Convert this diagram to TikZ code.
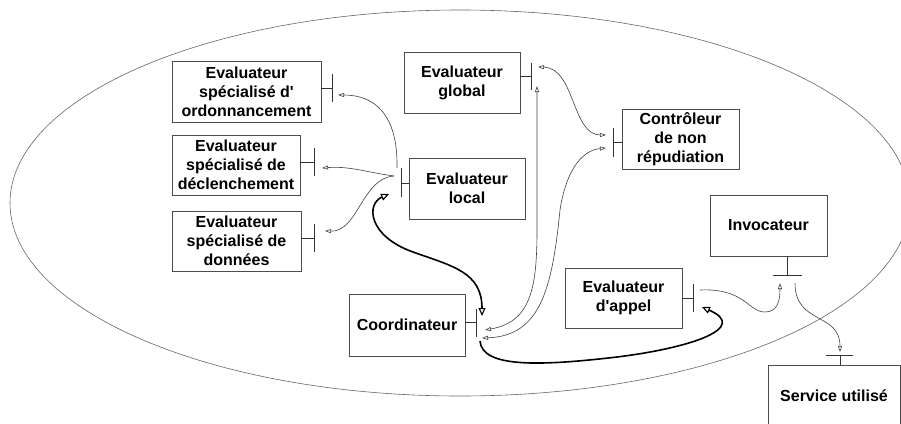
\documentclass[tikz,border=0pt]{standalone}
\usepackage{fontspec}
\setmainfont{Liberation Sans}[Ligatures=TeXOff]
\usetikzlibrary{arrows.meta}
\begin{document}
\begin{tikzpicture}[x=1pt,y=-1pt,
  box/.style={draw=black!70, fill=white, line width=0.8pt, rectangle, inner sep=0pt, align=center,
              font=\fontsize{16}{19}\selectfont\bfseries},
  tee/.style={draw=black!80, line width=0.7pt},
  ell/.style={draw=black!60, line width=0.6pt},
  fine/.style={draw=black!75, line width=0.6pt, >={Triangle[open,length=6pt,width=4pt]}},
  heavy/.style={draw=black, line width=1.6pt, >={Triangle[open,length=8pt,width=7pt,line width=1.1pt]}}]
\clip (0,0) rectangle (901,423);
\useasboundingbox (0,0) rectangle (901,423);

% enclosing ellipse
\draw[ell] (460,203) ellipse [x radius=450pt, y radius=193pt];

% boxes
\node[box, minimum width=149pt, minimum height=61pt] (ord)  at (246.5,91.5) {Evaluateur\\spécialisé d'\\ordonnancement};
\node[box, minimum width=128pt, minimum height=60pt] (decl) at (236,165)    {Evaluateur\\spécialisé de\\déclenchement};
\node[box, minimum width=129pt, minimum height=60pt] (don)  at (236.5,241)  {Evaluateur\\spécialisé de\\données};
\node[box, minimum width=116pt, minimum height=61pt] (glob) at (462,82.5)   {Evaluateur\\global};
\node[box, minimum width=116pt, minimum height=61pt] (loc)  at (467,188.5)  {Evaluateur\\local};
\node[box, minimum width=117pt, minimum height=60pt] (ctrl) at (680.5,139)  {Contrôleur\\de non\\répudiation};
\node[box, minimum width=117pt, minimum height=61pt] (inv)  at (768.5,225.5){Invocateur};
\node[box, minimum width=117pt, minimum height=60pt] (app)  at (623.5,298)  {Evaluateur\\d'appel};
\node[box, minimum width=116pt, minimum height=62pt] (coord) at (407,325)   {Coordinateur};
\node[box, minimum width=132pt, minimum height=62pt] (serv) at (834,396)    {Service utilisé};

% interface tees
\coordinate (ordT)  at (332,88);
\coordinate (declT) at (314,162);
\coordinate (donT)  at (314,238);
\coordinate (globT) at (531,76);
\coordinate (locT)  at (401,183);
\coordinate (ctrlT) at (613,142);
\coordinate (coordT) at (476,322);
\coordinate (appT)  at (693,298);
\coordinate (invT)  at (787,275);
\coordinate (servT) at (840,355);
\draw[tee] (ord.east |- ordT) -- (ordT) ++(0,-14) -- ++(0,28);
\draw[tee] (decl.east |- declT) -- (declT) ++(0,-14) -- ++(0,28);
\draw[tee] (don.east |- donT) -- (donT) ++(0,-14) -- ++(0,28);
\draw[tee] (glob.east |- globT) -- (globT) ++(0,-13) -- ++(0,27);
\draw[tee] (loc.west |- locT) -- (locT) ++(0,-15) -- ++(0,29);
\draw[tee] (ctrl.west |- ctrlT) -- (ctrlT) ++(0,-14) -- ++(0,29);
\draw[tee] (coord.east |- coordT) -- (coordT) ++(0,-13) -- ++(0,28);
\draw[tee] (app.east |- appT) -- (appT) ++(0,-14) -- ++(0,28);
\draw[tee] (inv.south -| invT) -- (invT) ++(-14,0) -- ++(29,0);
\draw[tee] (serv.north -| servT) -- (servT) ++(-14,0) -- ++(27,0);

% connector ends
\coordinate (ordIn)   at (338,95);
\coordinate (declIn)  at (322,168);
\coordinate (donIn)   at (325,231);
\coordinate (locOut1) at (397,168);
\coordinate (locOut2) at (394,176);
\coordinate (locIn)   at (389,194);
\coordinate (coIn1)   at (482,316);
\coordinate (coIn2)   at (485,330);
\coordinate (coIn3)   at (482,338);
\coordinate (coOut)   at (480,341);
\coordinate (glIn1)   at (538,67);
\coordinate (glIn2)   at (537,86);
\coordinate (ctIn1)   at (606,135);
\coordinate (ctIn2)   at (606,148);
\coordinate (apIn)    at (702,307);
\coordinate (apOut)   at (700,290);
\coordinate (invIn)   at (780,283);
\coordinate (invOut)  at (795,283);
\coordinate (svIn)    at (840,352);

% connectors
\draw[fine,->] (locOut1) .. controls (398,115) and (375,95) .. (ordIn);
\draw[fine,->] (locOut2) .. controls (365,172) and (350,166) .. (declIn);
\draw[fine,->] (locOut2) .. controls (362,178) and (358,232) .. (donIn);
\draw[heavy,<->] (locIn) .. controls (366,204) and (368,236) .. (413,252)
                 .. controls (452,266) and (482,272) .. (coIn1);
\draw[fine,<->] (coIn2) .. controls (530,322) and (537,290) .. (537,230) -- (glIn2);
\draw[fine,<->] (coIn3) .. controls (540,336) and (552,290) .. (560,210)
                .. controls (567,165) and (585,150) .. (ctIn2);
\draw[fine,<->] (glIn1) .. controls (575,68) and (572,135) .. (ctIn1);
\draw[heavy,->] (coOut) .. controls (482,368) and (540,366) .. (617,357)
                .. controls (690,348) and (750,328) .. (apIn);
\draw[fine,->] (apOut) .. controls (745,288) and (748,312) .. (765,312)
               .. controls (778,312) and (780,300) .. (invIn);
\draw[fine,->] (invOut) .. controls (795,325) and (840,312) .. (svIn);
\end{tikzpicture}
\end{document}
